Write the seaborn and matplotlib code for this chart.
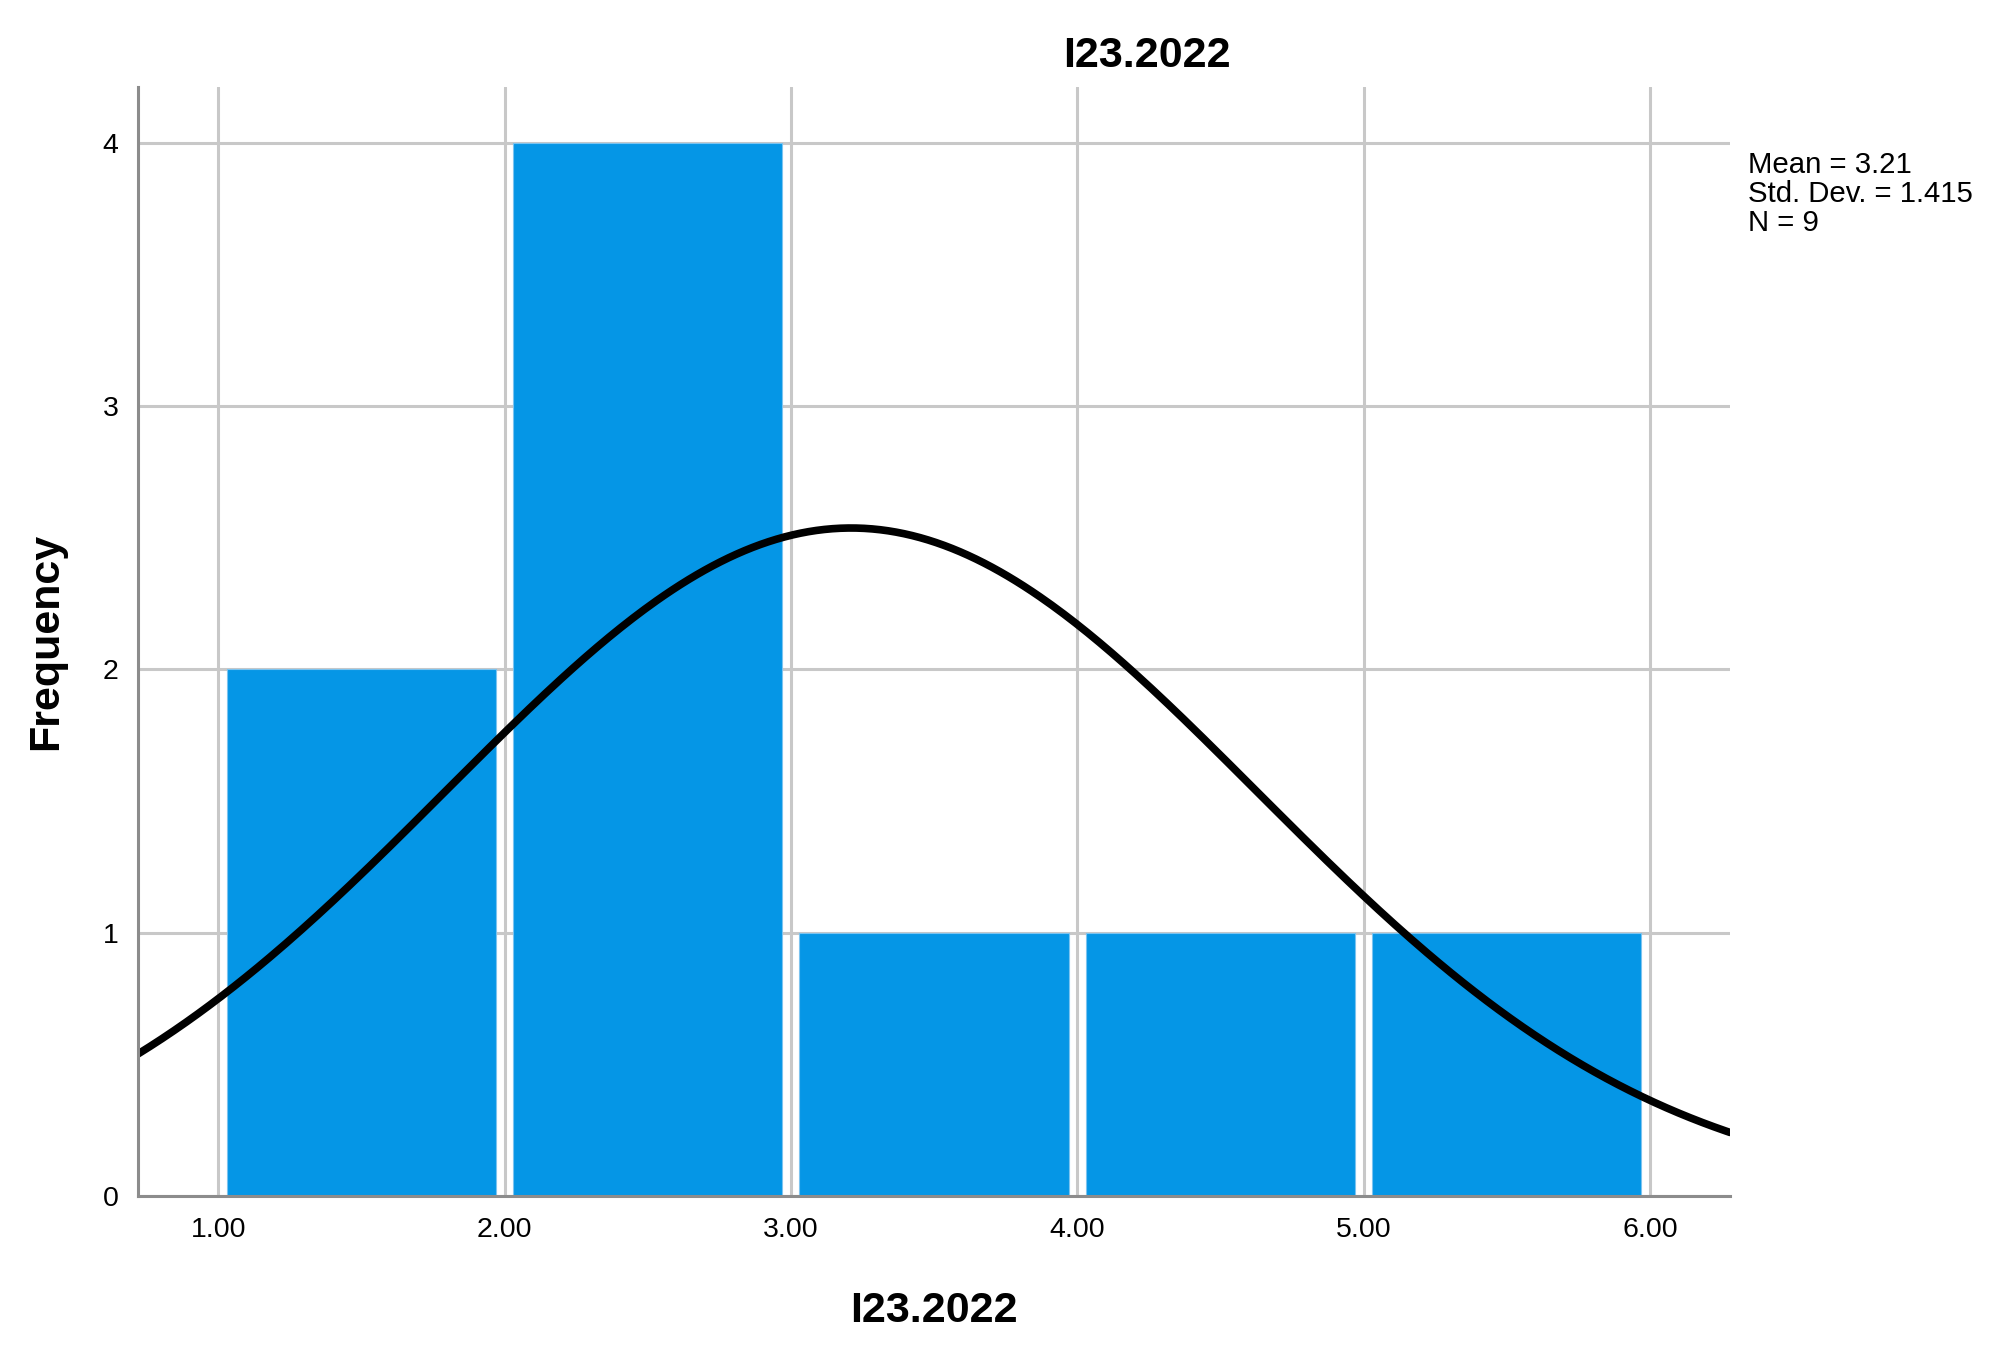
import numpy as np
import pandas as pd
import matplotlib
matplotlib.use("Agg")
import matplotlib.pyplot as plt
import seaborn as sns

# ---- data ----
bin_edges = [1.0, 2.0, 3.0, 4.0, 5.0, 6.0]
bin_counts = [2, 4, 1, 1, 1]
x_ticks = [1.0, 2.0, 3.0, 4.0, 5.0, 6.0]
x_tick_labels = ["1.00", "2.00", "3.00", "4.00", "5.00", "6.00"]
y_ticks = [0, 1, 2, 3, 4]
stat_mean = 3.21
stat_sd = 1.415
stat_n = 9
var_name = "I23.2022"

sns.set_theme(style="white")
plt.rcParams["font.family"] = ["Liberation Sans", "DejaVu Sans"]
plt.rcParams["text.color"] = "black"
plt.rcParams["axes.labelcolor"] = "black"

centers = [(a + b) / 2 for a, b in zip(bin_edges[:-1], bin_edges[1:])]
df = pd.DataFrame({"value": centers, "count": bin_counts})

fig = plt.figure(figsize=(19.95, 13.48), dpi=100)
ax = fig.add_axes([0.0692, 0.1128, 0.8672 - 0.0692, 0.9355 - 0.1128])

sns.histplot(data=df, x="value", weights="count", bins=bin_edges, shrink=0.94,
             color="#0596E6", alpha=1.0, edgecolor="#7cc4f0", linewidth=0.8, ax=ax, zorder=2)

# fitted normal curve from the reported statistics
binw = bin_edges[1] - bin_edges[0]
xs = np.linspace(0.72, 6.28, 400)
ys = stat_n * binw / (stat_sd * np.sqrt(2 * np.pi)) * np.exp(-0.5 * ((xs - stat_mean) / stat_sd) ** 2)
sns.lineplot(x=xs, y=ys, color="black", linewidth=5.5, ax=ax, zorder=3)

ax.set_xlim(0.72, 6.28)
ax.set_ylim(0, 4.213)
ax.set_xticks(x_ticks)
ax.set_xticklabels(x_tick_labels)
ax.set_yticks(y_ticks)
ax.grid(True, color="#c8c8c8", linewidth=2.2, zorder=0)
ax.set_axisbelow(True)
for s in ["top", "right"]:
    ax.spines[s].set_visible(False)
for s in ["left", "bottom"]:
    ax.spines[s].set_color("#8c8c8c")
    ax.spines[s].set_linewidth(2.2)
    ax.spines[s].set_zorder(4)
ax.tick_params(axis="both", length=0, labelsize=20.5, colors="black")
ax.tick_params(axis="x", pad=15)
ax.tick_params(axis="y", pad=14)

ax.set_xlabel(var_name, fontsize=31, fontweight="bold", labelpad=35, color="black")
ax.set_ylabel("Frequency", fontsize=31, fontweight="bold", labelpad=26, color="black")
fig.text(1147 / 1995, 1 - 67 / 1348, var_name, fontsize=31, fontweight="bold",
         ha="center", va="baseline", color="black")

stats_lines = [f"Mean = {stat_mean:.2f}", f"Std. Dev. = {stat_sd:.3f}", f"N = {stat_n}"]
for i, line in enumerate(stats_lines):
    fig.text(1748 / 1995, 1 - (173 + 29 * i) / 1348, line, fontsize=21.2,
             ha="left", va="baseline", color="black")

fig.savefig("out.png", dpi=100)
